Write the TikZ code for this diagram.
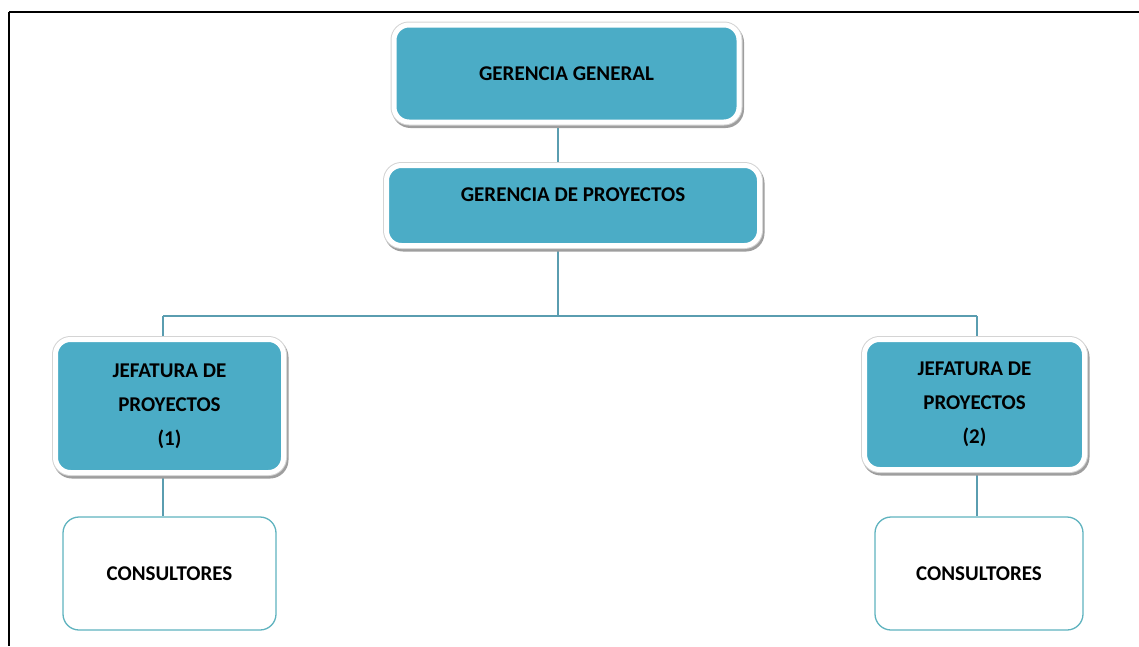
\documentclass[tikz,border=0pt]{standalone}
\usepackage{fontspec}
\setmainfont{Carlito}
\usetikzlibrary{backgrounds}

\definecolor{aqua}{HTML}{4BACC6}
\definecolor{linkteal}{HTML}{5A9DB0}
\definecolor{rimgray}{HTML}{D4D4D4}
\definecolor{shadowgray}{HTML}{9E9E9E}
\definecolor{outlineteal}{HTML}{5FB3BF}

\tikzset{
  boxfont/.style={font=\fontsize{21}{34}\selectfont\bfseries, text=black, align=center},
  unitbox/.style={
    rectangle, rounded corners=15pt, boxfont,
    preaction={draw=shadowgray, line width=7pt, transform canvas={xshift=1.5pt, yshift=-2.5pt}},
    preaction={draw=rimgray, line width=7pt},
    fill=aqua, draw=white, line width=5pt, inner sep=0pt},
  staffbox/.style={
    rectangle, rounded corners=16pt, boxfont,
    draw=outlineteal, line width=1.3pt, fill=white, inner sep=0pt},
  link/.style={draw=linkteal, line width=1.5pt},
  frame/.style={draw=black, line width=2.5pt}
}

\begin{document}
\begin{tikzpicture}[x=1pt, y=-1pt]
  \useasboundingbox (0,0) rectangle (1139,646);

  % page frame: top and left edges
  \draw[frame] (9,12) -- (1139,12);
  \draw[frame] (9,12) -- (9,646);

  % management
  \node[unitbox, minimum width=345pt, minimum height=97pt] (gg) at (566.5,73.5) {GERENCIA GENERAL};
  \node[unitbox, minimum width=373pt, minimum height=80pt, text depth=21pt] (gp) at (573,205.5) {GERENCIA DE PROYECTOS};

  % project heads
  \node[unitbox, minimum width=228pt, minimum height=133pt] (j1) at (169.5,406) {JEFATURA DE\\PROYECTOS\\(1)};
  \node[unitbox, minimum width=220pt, minimum height=130pt] (j2) at (974.5,404.5) {JEFATURA DE\\PROYECTOS\\(2)};

  % consultants
  \node[staffbox, minimum width=213pt, minimum height=113pt] (c1) at (169.5,573.5) {CONSULTORES};
  \node[staffbox, minimum width=208pt, minimum height=113pt] (c2) at (979,573.5) {CONSULTORES};

  % branching points of the tree
  \coordinate (trunk) at (558,316);
  \coordinate (legl) at (163,316);
  \coordinate (legr) at (977,316);

  \begin{scope}[on background layer]
    \draw[link] (trunk |- gg.south) -- (trunk |- gp.north);
    \draw[link] (trunk |- gp.south) -- (trunk);
    \draw[link] (legl) -- (legr);
    \draw[link] (legl) -- (legl |- j1.north);
    \draw[link] (legr) -- (legr |- j2.north);
    \draw[link] (legl |- j1.south) -- (legl |- c1.north);
    \draw[link] (legr |- j2.south) -- (legr |- c2.north);
  \end{scope}
\end{tikzpicture}
\end{document}
